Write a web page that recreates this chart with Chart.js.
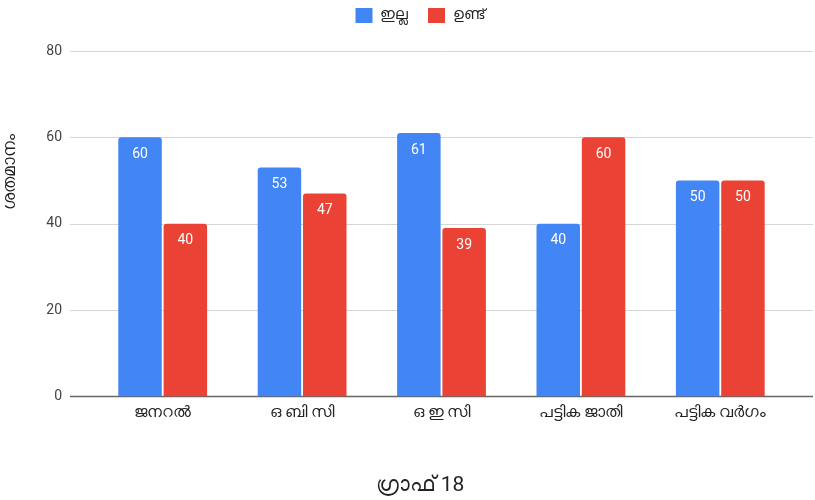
<!DOCTYPE html>
<html>
<head>
<meta charset="utf-8">
<script src="https://cdn.jsdelivr.net/npm/chart.js@4.4.1/dist/chart.umd.min.js"></script>
<style>
  html, body { margin: 0; padding: 0; background: #fff; }
  #wrap { width: 815px; height: 500px; }
</style>
</head>
<body>
<div id="wrap"><canvas id="BarChart"></canvas></div>
<script>
const categories = ["ജനറൽ", "ഒ ബി സി", "ഒ ഇ സി", "പട്ടിക ജാതി", "പട്ടിക വർഗം"];
const seriesNames = ["ഇല്ല", "ഉണ്ട്"];
const noValues = [60, 53, 61, 40, 50];
const yesValues = [40, 47, 39, 60, 50];
const yTicks = [0, 20, 40, 60, 80];
const yAxisTitle = "ശതമാനം";
const chartTitle = "ഗ്രാഫ് 18";

const FONT = "Roboto, 'Noto Sans', sans-serif";

// full-width gridlines + baseline, drawn from the y scale
const gridPlugin = {
  id: "wideGrid",
  beforeDatasetsDraw(chart) {
    const { ctx, scales: { y } } = chart;
    ctx.save();
    yTicks.forEach(v => {
      const py = Math.round(y.getPixelForValue(v)) + 0.5;
      ctx.strokeStyle = v === 0 ? "#666666" : "#d6d6d6";
      ctx.lineWidth = v === 0 ? 1.6 : 1;
      ctx.beginPath();
      ctx.moveTo(70, py);
      ctx.lineTo(813, py);
      ctx.stroke();
    });
    ctx.restore();
  }
};

// value labels inside the top of each bar, plus rotated y title
const labelPlugin = {
  id: "barLabels",
  afterDatasetsDraw(chart) {
    const ctx = chart.ctx;
    ctx.save();
    ctx.font = "14px " + FONT;
    ctx.fillStyle = "#ffffff";
    ctx.textAlign = "center";
    ctx.textBaseline = "middle";
    chart.data.datasets.forEach((ds, i) => {
      chart.getDatasetMeta(i).data.forEach((bar, j) => {
        ctx.fillText(String(ds.data[j]), bar.x, bar.y + 17);
      });
    });
    ctx.translate(11, 172);
    ctx.rotate(-Math.PI / 2);
    ctx.font = "17px " + FONT;
    ctx.fillStyle = "#222222";
    ctx.fillText(yAxisTitle, 0, 0);
    ctx.restore();
  }
};

// fixed legend height (plot top at 51px); legend + title centred ~420px like the original
const shiftDraw = (box, dx, dy) => {
  const origDraw = box.draw;
  box.draw = function () {
    this.ctx.save();
    this.ctx.translate(dx, dy);
    origDraw.apply(this, arguments);
    this.ctx.restore();
  };
};

const layoutTweaks = {
  id: "layoutTweaks",
  beforeInit(chart) {
    const origFit = chart.legend.fit;
    chart.legend.fit = function () {
      origFit.call(this);
      this.height = 51;
    };
    shiftDraw(chart.legend, 25, -12);
    if (chart.titleBlock) shiftDraw(chart.titleBlock, 25, 0);
  }
};

function initBarChart() {
  const el = document.getElementById("BarChart");
  if (!el) return console.error("BarChart canvas not found");
  new Chart(el.getContext("2d"), {
    type: "bar",
    data: {
      labels: categories,
      datasets: [
        { label: seriesNames[0], data: noValues, backgroundColor: "#4285F4" },
        { label: seriesNames[1], data: yesValues, backgroundColor: "#EA4335" }
      ]
    },
    plugins: [layoutTweaks, gridPlugin, labelPlugin],
    options: {
      responsive: true,
      maintainAspectRatio: false,
      animation: false,
      layout: { padding: { left: 0, right: 25, top: 0, bottom: 0 } },
      datasets: {
        bar: {
          categoryPercentage: 0.65,
          barPercentage: 0.96,
          borderRadius: { topLeft: 3, topRight: 3 },
          borderSkipped: "bottom"
        }
      },
      scales: {
        x: {
          grid: { display: false, drawTicks: false },
          border: { display: false },
          ticks: { color: "#222222", font: { family: FONT, size: 16 }, padding: 7, maxRotation: 0 },
          afterFit: s => { s.height = 76.4; }
        },
        y: {
          min: 0,
          max: 80,
          grid: { display: false, drawTicks: false },
          border: { display: false },
          afterBuildTicks: s => { s.ticks = yTicks.map(v => ({ value: v })); },
          ticks: { color: "#444444", font: { family: FONT, size: 14 }, padding: 31 },
          afterFit: s => { s.width = 93; }
        }
      },
      plugins: {
        legend: {
          position: "top",
          labels: {
            boxWidth: 17,
            boxHeight: 15,
            padding: 20,
            color: "#222222",
            font: { family: FONT, size: 15 }
          }
        },
        title: {
          display: true,
          position: "bottom",
          text: chartTitle,
          color: "#222222",
          font: { family: FONT, size: 21, weight: "normal" },
          padding: { top: 0, bottom: 2 }
        },
        tooltip: { enabled: false }
      }
    }
  });
}

document.addEventListener("DOMContentLoaded", initBarChart);
</script>
</body>
</html>
